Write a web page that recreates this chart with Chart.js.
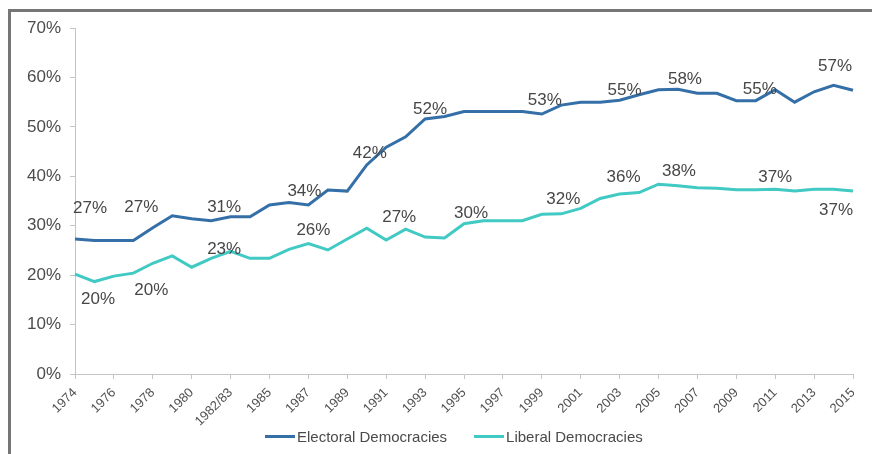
<!DOCTYPE html>
<html>
<head>
<meta charset="utf-8">
<script src="https://cdn.jsdelivr.net/npm/chart.js@4/dist/chart.umd.min.js"></script>
<style>
  html, body { margin: 0; padding: 0; background: #fff; }
  #frame {
    position: absolute; left: 8px; top: 9px; width: 872px; height: 454px;
    border-left: 3px solid #767676; border-top: 3px solid #767676;
  }
  #chart-canvas { position: absolute; left: 0; top: 0; }
  #legend {
    position: absolute; left: 265px; top: 428px; display: flex; align-items: center;
    font: 15px "Liberation Sans", Arial, sans-serif; color: #4a4a4a; white-space: nowrap;
  }
  #legend .item { display: flex; align-items: center; margin-right: 27px; }
  #legend .swatch { width: 30px; height: 3px; margin-right: 2px; }
</style>
</head>
<body>
<div id="frame"></div>
<canvas id="chart-canvas" width="872" height="454"></canvas>
<div id="legend"></div>
<script>
const years = [
  "1974", "1975", "1976", "1977", "1978", "1979", "1980", "1981", "1982/83",
  "1984", "1985", "1986", "1987", "1988", "1989", "1990", "1991", "1992",
  "1993", "1994", "1995", "1996", "1997", "1998", "1999", "2000", "2001",
  "2002", "2003", "2004", "2005", "2006", "2007", "2008", "2009", "2010",
  "2011", "2012", "2013", "2014", "2015"
];

// share of countries, percent
const electoral = [
  27.3, 27.0, 27.0, 27.0, 29.6, 32.0, 31.4, 31.0, 31.8,
  31.8, 34.2, 34.7, 34.2, 37.2, 37.0, 42.3, 45.9, 48.0,
  51.6, 52.1, 53.1, 53.1, 53.1, 53.1, 52.6, 54.4, 55.0,
  55.0, 55.4, 56.5, 57.5, 57.6, 56.8, 56.8, 55.3, 55.3,
  57.5, 55.0, 57.1, 58.4, 57.4
];
const liberal = [
  20.2, 18.7, 19.8, 20.4, 22.4, 23.9, 21.6, 23.4, 24.8,
  23.4, 23.4, 25.2, 26.4, 25.1, 27.3, 29.5, 27.1, 29.3,
  27.7, 27.5, 30.4, 31.0, 31.0, 31.0, 32.3, 32.4, 33.5,
  35.5, 36.4, 36.7, 38.4, 38.1, 37.7, 37.6, 37.3, 37.3,
  37.4, 37.0, 37.4, 37.4, 37.0
];

const yTicks = [0, 10, 20, 30, 40, 50, 60, 70];

// points that carry a value label
const electoralLabelAt = [0, 3, 7, 12, 15, 18, 24, 28, 31, 35, 40];
const liberalLabelAt = [0, 3, 7, 12, 16, 20, 25, 28, 31, 36, 40];

// where each label sits relative to its point (px)
const electoralLabelShift = [
  [15, -31], [8, -33], [13, -13], [-4, -14], [3, -12], [5, -10],
  [3, -14], [5, -10], [7, -10], [4, -11], [-18, -24]
];
const liberalLabelShift = [
  [23, 25], [18, 17], [13, -9], [5, -13], [13, -23], [7, -10],
  [2, -15], [4, -17], [1, -14], [0, -12], [-17, 19]
];

const FONT = '"Liberation Sans", Arial, sans-serif';
const BLUE = "#356fa8";
const TEAL = "#41c9c4";
const AXIS = "#c4c4c4";

const valueLabels = {
  id: "valueLabels",
  afterDatasetsDraw(chart) {
    const ctx = chart.ctx;
    const groups = [
      [0, electoralLabelAt, electoralLabelShift],
      [1, liberalLabelAt, liberalLabelShift]
    ];
    ctx.save();
    ctx.font = "17px " + FONT;
    ctx.fillStyle = "#474747";
    ctx.textAlign = "center";
    ctx.textBaseline = "middle";
    groups.forEach(([d, spots, shifts]) => {
      const meta = chart.getDatasetMeta(d);
      const values = chart.data.datasets[d].data;
      spots.forEach((i, k) => {
        const pt = meta.data[i];
        const [dx, dy] = shifts[k];
        ctx.fillText(Math.round(values[i]) + "%", pt.x + dx, pt.y + dy);
      });
    });
    ctx.restore();
  }
};

const chartCanvas = document.getElementById("chart-canvas");

const chart = new Chart(chartCanvas, {
  type: "line",
  data: {
    labels: years,
    datasets: [
      {
        label: "Electoral Democracies",
        data: electoral,
        borderColor: BLUE,
        backgroundColor: BLUE,
        borderWidth: 3,
        pointRadius: 0,
        tension: 0
      },
      {
        label: "Liberal Democracies",
        data: liberal,
        borderColor: TEAL,
        backgroundColor: TEAL,
        borderWidth: 3,
        pointRadius: 0,
        tension: 0
      }
    ]
  },
  options: {
    responsive: false,
    animation: false,
    layout: { padding: { left: 25, right: 19, top: 28, bottom: 0 } },
    plugins: {
      tooltip: { enabled: false },
      legend: { display: false }
    },
    scales: {
      x: {
        offset: false,
        grid: {
          drawOnChartArea: false,
          drawTicks: true,
          tickLength: 5,
          color: (c) => (c.index % 2 ? "rgba(0,0,0,0)" : AXIS)
        },
        border: { color: AXIS, width: 1 },
        ticks: {
          autoSkip: false,
          minRotation: 45,
          maxRotation: 45,
          padding: 6,
          color: "#505050",
          font: { family: FONT, size: 13 },
          callback: (v, i) => (i % 2 ? "" : years[i])
        },
        afterFit: (s) => { s.height = 80; }
      },
      y: {
        min: 0,
        max: 70,
        afterBuildTicks: (s) => { s.ticks = yTicks.map((v) => ({ value: v })); },
        grid: {
          drawOnChartArea: false,
          drawTicks: true,
          tickLength: 5,
          color: AXIS
        },
        border: { color: AXIS, width: 1 },
        ticks: {
          padding: 9,
          color: "#4c4c4c",
          font: { family: FONT, size: 17 },
          callback: (v) => v + "%"
        },
        afterFit: (s) => { s.width = 50; }
      }
    }
  },
  plugins: [valueLabels]
});

// legend under the axis, built from the datasets
const legendDiv = document.getElementById("legend");
chart.data.datasets.forEach((ds) => {
  const item = document.createElement("span");
  item.className = "item";
  const swatch = document.createElement("span");
  swatch.className = "swatch";
  swatch.style.background = ds.borderColor;
  const text = document.createElement("span");
  text.textContent = ds.label;
  item.appendChild(swatch);
  item.appendChild(text);
  legendDiv.appendChild(item);
});
</script>
</body>
</html>
